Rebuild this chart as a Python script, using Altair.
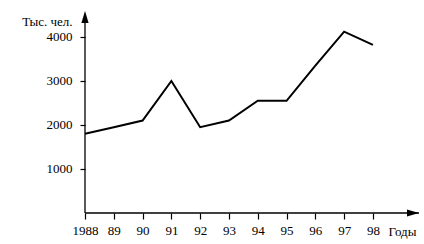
import altair as alt
import pandas as pd

years = [1988, 1989, 1990, 1991, 1992, 1993, 1994, 1995, 1996, 1997, 1998]
values = [1800, 1950, 2100, 3000, 1950, 2100, 2550, 2550, 3350, 4120, 3820]
x_labels = ["1988", "89", "90", "91", "92", "93", "94", "95", "96", "97", "98"]
y_ticks = [1000, 2000, 3000, 4000]
y_title = "Тыс. чел."
x_title = "Годы"

X_MIN, X_MAX = 1988, 1999.6
Y_MIN, Y_MAX = 0, 4590

df = pd.DataFrame({"year": years, "value": values})

xs = alt.Scale(domain=[X_MIN, X_MAX], nice=False, zero=False)
ys = alt.Scale(domain=[Y_MIN, Y_MAX], nice=False)

FONT = "Liberation Serif"
label_expr = "[" + ",".join(f"'{l}'" for l in x_labels) + "][datum.value - 1988]"

x_axis = alt.Axis(values=years, labelExpr=label_expr, tickSize=6, tickColor="black",
                  tickWidth=1.2, domain=False, grid=False, labelFont=FONT, labelFontSize=13,
                  labelColor="black", labelPadding=5, labelFlush=False, labelOverlap=False,
                  labelBound=False,
                  title=x_title, titleFont=FONT, titleFontSize=13, titleFontWeight="normal",
                  titleColor="black", titleX=317, titleY=22, titleAlign="center",
                  titleBaseline="alphabetic", titleAngle=0)
y_axis = alt.Axis(values=y_ticks, format="d", tickSize=5, tickColor="black", tickWidth=1.2,
                  domain=False, grid=False, labelFont=FONT, labelFontSize=13,
                  labelColor="black", labelPadding=8, labelOverlap=False,
                  title=y_title, titleFont=FONT, titleFontSize=13, titleFontWeight="normal",
                  titleColor="black", titleX=-13, titleY=14, titleAlign="right",
                  titleBaseline="alphabetic", titleAngle=0)

line = alt.Chart(df).mark_line(color="black", strokeWidth=2, clip=False).encode(
    x=alt.X("year:Q", scale=xs, axis=x_axis),
    y=alt.Y("value:Q", scale=ys, axis=y_axis),
)

axes_df = pd.DataFrame({"x": [X_MIN, X_MIN], "x2": [X_MIN, X_MAX],
                        "y": [Y_MIN, Y_MIN], "y2": [Y_MAX - 200, Y_MIN]})
axis_rules = alt.Chart(axes_df).mark_rule(color="black", strokeWidth=1.3).encode(
    x=alt.X("x:Q", scale=xs, axis=x_axis), x2="x2:Q",
    y=alt.Y("y:Q", scale=ys, axis=y_axis), y2="y2:Q",
)

up_df = pd.DataFrame({"x": [X_MIN], "y": [Y_MAX]})
arrow_up = alt.Chart(up_df).mark_point(
    shape="M0,0 L-1.2,4 L1.2,4 Z", size=36, filled=True, color="black", opacity=1
).encode(x=alt.X("x:Q", scale=xs, axis=x_axis), y=alt.Y("y:Q", scale=ys, axis=y_axis))

right_df = pd.DataFrame({"x": [X_MAX], "y": [Y_MIN]})
arrow_right = alt.Chart(right_df).mark_point(
    shape="M0,0 L-4,-1.2 L-4,1.2 Z", size=36, filled=True, color="black", opacity=1
).encode(x=alt.X("x:Q", scale=xs, axis=x_axis), y=alt.Y("y:Q", scale=ys, axis=y_axis))

chart = alt.layer(line, axis_rules, arrow_up, arrow_right).properties(
    width=334, height=202,
    autosize=alt.AutoSizeParams(type="none"),
    padding={"left": 85, "top": 11, "right": 5, "bottom": 31},
    background="white",
).configure_view(stroke=None)

chart.save("out.html", embed_options={"renderer": "svg", "actions": False})
